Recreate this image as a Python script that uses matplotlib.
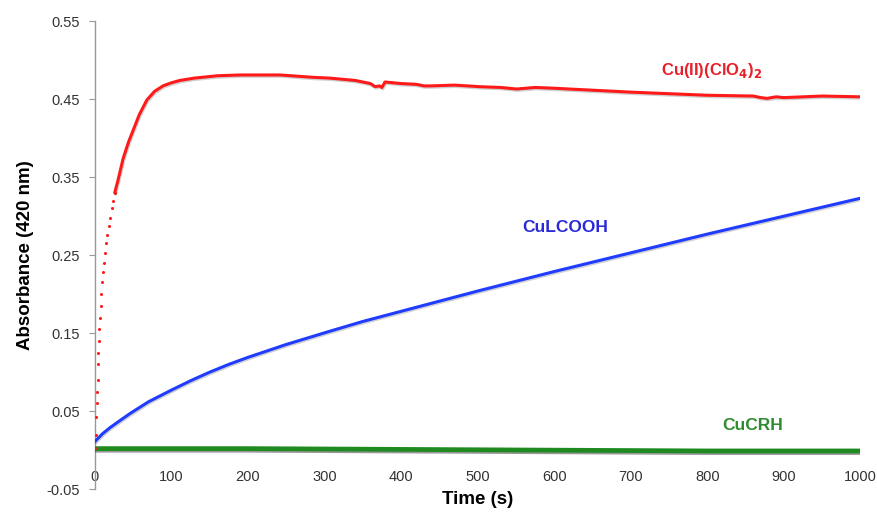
import matplotlib
matplotlib.use("Agg")
import matplotlib.pyplot as plt
import matplotlib.patheffects as pe

plt.rcParams['font.family'] = ['Liberation Sans', 'DejaVu Sans']

# Cu(II)(ClO4)2 - early sparse samples (drawn as dots) and later trace
red_t_early = [0, 1, 2, 2.5, 3, 3.5, 4, 4.5, 5, 5.5, 6.5, 7.5, 8.5, 9.5, 10.5,
               11.5, 13, 14.5, 16, 18, 20, 22, 24, 26]
red_y_early = [0.003, 0.02, 0.042, 0.06, 0.075, 0.09, 0.11, 0.125, 0.14, 0.155,
               0.17, 0.185, 0.2, 0.215, 0.228, 0.24, 0.253, 0.265, 0.276, 0.288,
               0.298, 0.31, 0.32, 0.33]
red_t = [26, 30, 37, 44, 50, 58, 68, 78, 89, 100, 111, 130, 160, 190, 242, 285,
         307, 340, 360, 366, 372, 375, 379, 400, 420, 430, 438, 470, 503, 530,
         551, 575, 600, 660, 700, 750, 800, 860, 870, 878, 890, 900, 950, 1000]
red_y = [0.33, 0.345, 0.374, 0.395, 0.41, 0.43, 0.449, 0.46, 0.467, 0.471,
         0.474, 0.477, 0.48, 0.481, 0.481, 0.478, 0.477, 0.474, 0.47, 0.466,
         0.467, 0.465, 0.472, 0.47, 0.469, 0.467, 0.467, 0.468, 0.466, 0.465,
         0.463, 0.465, 0.464, 0.461, 0.459, 0.457, 0.455, 0.454, 0.452, 0.451,
         0.453, 0.452, 0.454, 0.453]

# CuLCOOH
blue_t = [0, 10, 20, 30, 46, 70, 100, 125, 150, 175, 200, 250, 307, 350, 400,
          450, 500, 550, 600, 650, 700, 750, 800, 850, 900, 950, 1000]
blue_y = [0.011, 0.021, 0.029, 0.036, 0.047, 0.062, 0.077, 0.089, 0.1, 0.11,
          0.119, 0.1355, 0.1525, 0.165, 0.178, 0.191, 0.204, 0.2165, 0.229,
          0.241, 0.253, 0.265, 0.277, 0.2885, 0.3, 0.3115, 0.323]

# CuCRH
green_t = [0, 200, 400, 600, 800, 1000]
green_y = [0.002, 0.002, 0.001, 0.0, -0.001, -0.001]

x_ticks = [0, 100, 200, 300, 400, 500, 600, 700, 800, 900, 1000]
y_ticks = [-0.05, 0.05, 0.15, 0.25, 0.35, 0.45, 0.55]
y_ticklabels = ['-0.05', '0.05', '0.15', '0.25', '0.35', '0.45', '0.55']

fig = plt.figure(figsize=(8.78, 5.16), dpi=100)
ax = fig.add_axes([0.108, 0.052, 0.872, 0.907])

shadow = [pe.SimpleLineShadow(offset=(0.6, -1.0), shadow_color='#666666', alpha=0.3),
          pe.Normal()]

ax.plot(green_t, green_y, color='#1f8a1f', lw=3.4, solid_capstyle='round',
        path_effects=[pe.SimpleLineShadow(offset=(0.6, -1.2), shadow_color='#333333',
                                          alpha=0.5), pe.Normal()], zorder=3)
ax.plot(blue_t, blue_y, color='#1f3cff', lw=2.2, solid_capstyle='round',
        path_effects=shadow, zorder=4)
ax.plot(red_t, red_y, color='#ff1a1a', lw=2.2, solid_capstyle='round',
        path_effects=shadow, zorder=5)
ax.plot(red_t_early, red_y_early, linestyle='none', marker='o', ms=2.2,
        color='#ff1a1a', mec='none', zorder=5)

ax.set_xlim(0, 1000)
ax.set_ylim(-0.05, 0.55)
ax.set_xticks(x_ticks)
ax.set_xticklabels([str(v) for v in x_ticks])
ax.set_yticks(y_ticks)
ax.set_yticklabels(y_ticklabels)

for s in ['top', 'right', 'bottom']:
    ax.spines[s].set_visible(False)
ax.spines['left'].set_color('#999999')
ax.spines['left'].set_linewidth(1.0)

ax.tick_params(axis='y', direction='out', length=4, color='#999999',
               labelsize=10.5, labelcolor='#333333', pad=7)
ax.tick_params(axis='x', length=0, labelsize=10.5, labelcolor='#333333', pad=-13.5)

ax.set_xlabel('Time (s)', fontsize=13.5, fontweight='bold', labelpad=1)
ax.set_ylabel('Absorbance (420 nm)', fontsize=13.5, fontweight='bold', labelpad=9)

ax.text(805, 0.487, r'Cu(II)(ClO$_\mathbf{4}$)$_\mathbf{2}$', color='#e8202a',
        fontsize=12, fontweight='bold', ha='center', va='center')
ax.text(614, 0.285, 'CuLCOOH', color='#2a2ad8', fontsize=12.5, fontweight='bold',
        ha='center', va='center')
ax.text(859, 0.032, 'CuCRH', color='#2e8b2e', fontsize=12.5, fontweight='bold',
        ha='center', va='center')

fig.savefig('out.png', dpi=100)
